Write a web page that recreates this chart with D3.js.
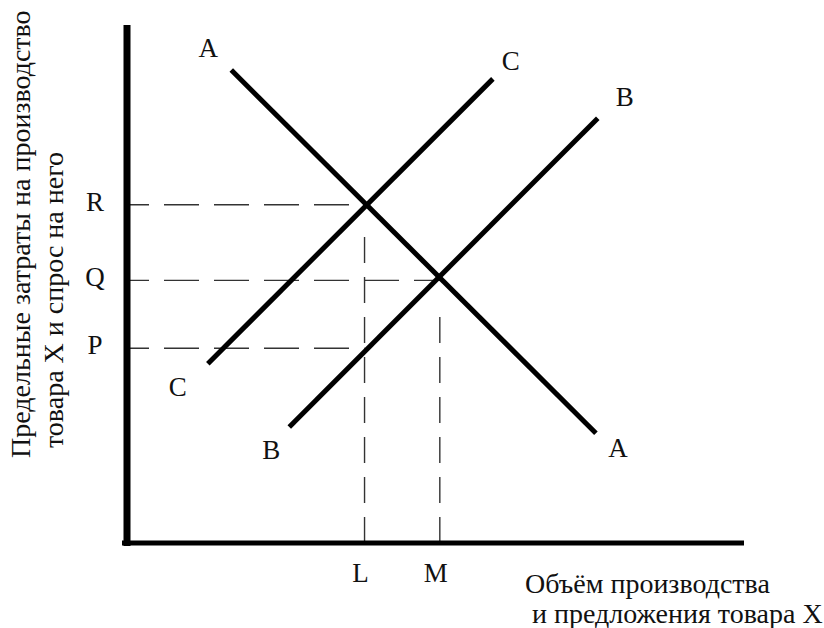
<!DOCTYPE html>
<html>
<head>
<meta charset="utf-8">
<script src="https://cdn.jsdelivr.net/npm/d3@7"></script>
<style>
  html, body { margin: 0; padding: 0; background: #fff; }
  svg { display: block; }
  text { font-family: "Liberation Serif", "DejaVu Serif", serif; fill: #111; }
</style>
</head>
<body>
<div id="chart"></div>
<script>
// --- data (abstract units, 0..100 on both axes) ---
const curveNames = ['A', 'C', 'B'];
const curveA = [{ x: 16.9, y: 91.3 }, { x: 76.0, y: 21.2 }];   // demand
const curveC = [{ x: 13.1, y: 34.6 }, { x: 59.3, y: 89.6 }];   // marginal cost (old)
const curveB = [{ x: 26.3, y: 22.4 }, { x: 76.3, y: 82.0 }];   // marginal cost (new)
const curves = [curveA, curveC, curveB];

const levelNames = ['R', 'Q', 'P'];
const levelValues = [65.3, 50.7, 37.6];
const levelEnds = [38.5, 50.7, 38.5];   // where each price guide stops (L, M, L)

const qtyNames = ['L', 'M'];
const qtyValues = [38.5, 50.7];
const qtyTops = [65.3, 50.7];           // R, Q

const yTitle = ['Предельные затраты на производство', 'товара X и спрос на него'];
const xTitle = ['Объём производства', ' и предложения товара X'];

// --- layout ---
const W = 824, H = 628;
const FS = 27, FS_TITLE = 28;

const svg = d3.select('#chart').append('svg')
  .attr('width', W).attr('height', H);

const x = d3.scaleLinear().domain([0, 100]).range([127, 744]);
const y = d3.scaleLinear().domain([0, 100]).range([543, 25]);

// dashed guides first, so axes/curves sit on top
svg.append('g').selectAll('line').data(levelValues).join('line')
  .attr('x1', x(0)).attr('x2', (d, i) => x(levelEnds[i]))
  .attr('y1', d => y(d)).attr('y2', d => y(d))
  .attr('stroke', '#333').attr('stroke-width', 1.4)
  .attr('stroke-dasharray', '35,15').attr('stroke-dashoffset', 13);

svg.append('g').selectAll('line').data(qtyValues).join('line')
  .attr('x1', d => x(d)).attr('x2', d => x(d))
  .attr('y1', y(0)).attr('y2', (d, i) => y(qtyTops[i]) + 24)
  .attr('stroke', '#333').attr('stroke-width', 1.4)
  .attr('stroke-dasharray', '26,14');

// axes
svg.append('line')
  .attr('x1', x(0)).attr('x2', x(0))
  .attr('y1', y(0) + 3).attr('y2', y(100))
  .attr('stroke', '#000').attr('stroke-width', 7);
svg.append('line')
  .attr('x1', x(0) - 5).attr('x2', x(100))
  .attr('y1', y(0)).attr('y2', y(0))
  .attr('stroke', '#000').attr('stroke-width', 5);

// curves
const line = d3.line().x(d => x(d.x)).y(d => y(d.y));
svg.append('g').selectAll('path').data(curves).join('path')
  .attr('d', line)
  .attr('fill', 'none').attr('stroke', '#000')
  .attr('stroke-width', 5).attr('stroke-linecap', 'butt');

// curve letters next to both ends  [start dx, dy, end dx, dy]
const endOffsets = [[-23, -13, 22, 24], [-30, 32, 18, -9], [-18, 32, 27, -12]];
curves.forEach((c, i) => {
  const o = endOffsets[i];
  [[c[0], o[0], o[1]], [c[1], o[2], o[3]]].forEach(([p, dx, dy]) => {
    svg.append('text')
      .attr('x', x(p.x) + dx).attr('y', y(p.y) + dy)
      .attr('text-anchor', 'middle').attr('font-size', FS)
      .text(curveNames[i]);
  });
});

// price labels R Q P
svg.append('g').selectAll('text').data(levelValues).join('text')
  .attr('x', 95).attr('y', d => y(d) + 6)
  .attr('text-anchor', 'middle').attr('font-size', FS)
  .text((d, i) => levelNames[i]);

// quantity labels L M
svg.append('g').selectAll('text').data(qtyValues).join('text')
  .attr('x', d => x(d) - 4).attr('y', 582)
  .attr('text-anchor', 'middle').attr('font-size', FS)
  .text((d, i) => qtyNames[i]);

// axis titles
svg.append('g').selectAll('text').data(yTitle).join('text')
  .attr('transform', (d, i) => `translate(${i ? 63 : 30},${i ? 448 : 458}) rotate(-90)`)
  .attr('font-size', FS_TITLE)
  .text(d => d);

svg.append('g').selectAll('text').data(xTitle).join('text')
  .attr('x', 525).attr('y', (d, i) => 593 + i * 30)
  .attr('font-size', FS_TITLE).attr('xml:space', 'preserve')
  .style('white-space', 'pre')
  .text(d => d);
</script>
</body>
</html>
